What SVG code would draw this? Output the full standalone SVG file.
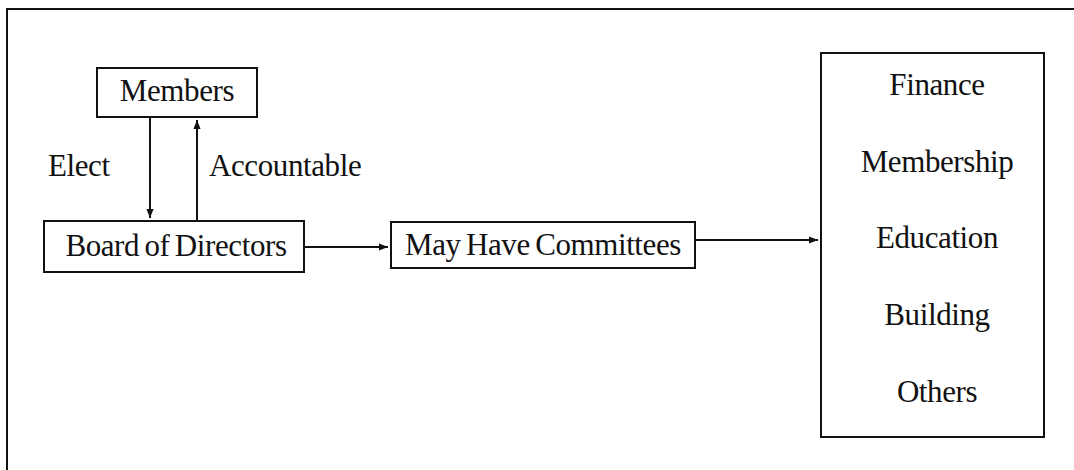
<svg xmlns="http://www.w3.org/2000/svg" width="1074" height="470" viewBox="0 0 1074 470">
<style>
.box{fill:#fff;stroke:#111;stroke-width:2}
.t{font-family:"Liberation Serif","Times New Roman",serif;font-size:31px;fill:#111;letter-spacing:-0.4px;word-spacing:-2px}
.c{stroke:#111;stroke-width:2;fill:none}
</style>
<defs>
<marker id="ah" viewBox="0 0 10 10" refX="10" refY="5" markerWidth="11" markerHeight="9" markerUnits="userSpaceOnUse" orient="auto">
<path d="M0,1 L10,5 L0,9 Z" fill="#111"/>
</marker>
</defs>
<rect width="1074" height="470" fill="#fff"/>
<path d="M7,480 L7,9 L1080,9" class="c"/>
<g id="members">
<rect class="box" x="97" y="68" width="160" height="49"/>
<text class="t" x="177" y="101" text-anchor="middle">Members</text>
</g>
<g id="board">
<rect class="box" x="44" y="221" width="260" height="51"/>
<text class="t" x="176" y="256" text-anchor="middle">Board of Directors</text>
</g>
<g id="committees">
<rect class="box" x="391" y="222" width="304" height="46"/>
<text class="t" x="543" y="255" text-anchor="middle">May Have Committees</text>
</g>
<g id="list">
<rect class="box" x="821" y="53" width="223" height="384"/>
<text class="t" x="937" y="95" text-anchor="middle">Finance</text>
<text class="t" x="937" y="172" text-anchor="middle">Membership</text>
<text class="t" x="937" y="248" text-anchor="middle">Education</text>
<text class="t" x="937" y="325" text-anchor="middle">Building</text>
<text class="t" x="937" y="402" text-anchor="middle">Others</text>
</g>
<g id="connectors">
<line class="c" x1="150" y1="117" x2="150" y2="218" marker-end="url(#ah)"/>
<line class="c" x1="197" y1="221" x2="197" y2="120" marker-end="url(#ah)"/>
<line class="c" x1="304" y1="247" x2="388" y2="247" marker-end="url(#ah)"/>
<line class="c" x1="695" y1="240" x2="818" y2="240" marker-end="url(#ah)"/>
<text class="t" x="48" y="176">Elect</text>
<text class="t" x="209" y="176">Accountable</text>
</g>
</svg>
